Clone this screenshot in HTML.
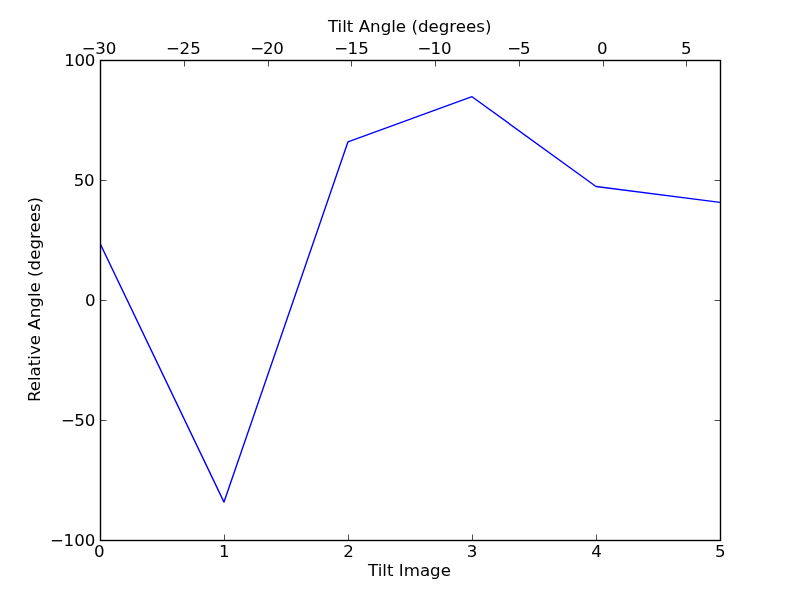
<!DOCTYPE html><html><head><meta charset="utf-8"><title>Tilt plot</title><style>
html,body{margin:0;padding:0;background:#fff;}svg{display:block}text{font-family:"DejaVu Sans","Liberation Sans",sans-serif;font-size:16.667px;fill:#000}
</style></head><body>
<svg width="800" height="600" viewBox="0 0 800 600">
<rect width="800" height="600" fill="#fff"/>
<clipPath id="c"><rect x="100.5" y="60.5" width="620" height="480"/></clipPath>
<path d="M100.00,243.36 L224.00,502.08 L348.00,141.84 L472.00,96.72 L596.00,186.48 L720.00,202.32" fill="none" stroke="#0000ff" stroke-width="1.39" stroke-linejoin="round" clip-path="url(#c)"/>
<path d="M100.5,540.5v-6M224.5,540.5v-6M348.5,540.5v-6M472.5,540.5v-6M596.5,540.5v-6M720.5,540.5v-6M100.5,60.5v6M184.5,60.5v6M268.5,60.5v6M351.5,60.5v6M435.5,60.5v6M519.5,60.5v6M603.5,60.5v6M686.5,60.5v6M100.5,540.5h6M720.5,540.5h-6M100.5,420.5h6M720.5,420.5h-6M100.5,300.5h6M720.5,300.5h-6M100.5,180.5h6M720.5,180.5h-6M100.5,60.5h6M720.5,60.5h-6" fill="none" stroke="#000" stroke-width="0.7"/>
<rect x="100.5" y="60.5" width="620" height="480" fill="none" stroke="#000" stroke-width="1.39"/>
<text x="81.77 95.16 105.83" y="54.00">−30</text>
<text x="165.97 179.51 190.30" y="54.00">−25</text>
<text x="250.17 263.03 273.28" y="54.00">−20</text>
<text x="334.27 347.61 358.25" y="54.00">−15</text>
<text x="417.42 430.53 440.98" y="54.00">−10</text>
<text x="507.17 520.10" y="54.00">−5</text>
<text x="597.03" y="54.00">0</text>
<text x="680.97" y="54.00">5</text>
<text x="93.95" y="557.00">0</text>
<text x="218.94" y="557.00">1</text>
<text x="343.15" y="557.00">2</text>
<text x="466.83" y="557.00">3</text>
<text x="591.15" y="557.00">4</text>
<text x="714.94" y="557.00">5</text>
<text x="64.22 74.53 84.83" y="66.00">100</text>
<text x="73.83 84.08" y="186.00">50</text>
<text x="85.00" y="306.00">0</text>
<text x="61.07 74.21 84.68" y="426.00">−50</text>
<text x="50.07 63.47 74.15 84.83" y="546.00">−100</text>
<text x="409.7" y="31.5" text-anchor="middle">Tilt Angle (degrees)</text>
<text x="409.5" y="576" text-anchor="middle">Tilt Image</text>
<text transform="translate(39.7,299.5) rotate(-90)" text-anchor="middle">Relative Angle (degrees)</text>
</svg></body></html>
